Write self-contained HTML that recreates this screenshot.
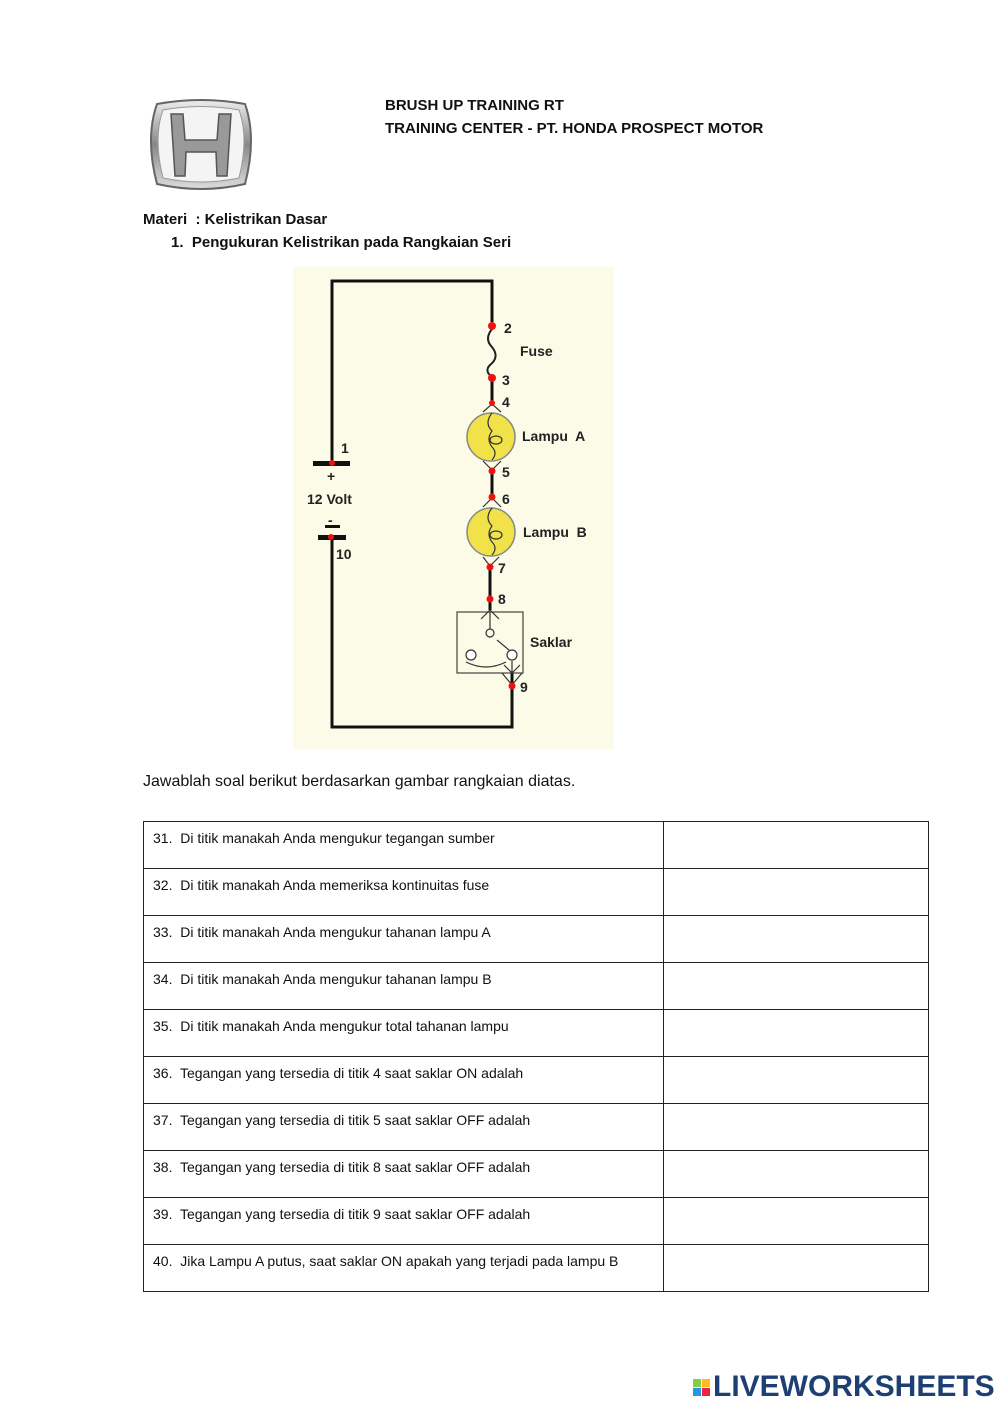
<!DOCTYPE html>
<html><head><style>
body{margin:0;width:1000px;height:1414px;background:#fff;font-family:"Liberation Sans",sans-serif;position:relative;overflow:hidden;color:#111}
.a{position:absolute}
.b{font-weight:bold;font-size:15px}
table{position:absolute;left:143px;top:821px;border-collapse:collapse;width:786px;table-layout:fixed}
td{border:1px solid #222;height:38px;padding:8px 0 0 0;font-size:14px;vertical-align:top;line-height:16px}
td.q{width:510px;padding-left:9px;white-space:nowrap}
</style></head><body>
<svg class="a" style="left:145px;top:98px" width="112" height="94" viewBox="0 0 112 94">
<defs><linearGradient id="g" x1="0" y1="0" x2="0" y2="1"><stop offset="0" stop-color="#eee"/><stop offset=".5" stop-color="#888"/><stop offset="1" stop-color="#ddd"/></linearGradient></defs>
<path d="M12 6 Q56 -2 100 6 Q112 40 100 86 Q56 96 12 86 Q0 40 12 6Z" fill="url(#g)" stroke="#666" stroke-width="2"/>
<path d="M18 12 Q56 5 94 12 Q104 40 94 80 Q56 88 18 80 Q8 40 18 12Z" fill="#f4f4f4" stroke="#999"/>
<path d="M26 16 L38 16 L40 42 L72 42 L74 16 L86 16 L82 78 L72 78 L71 54 L41 54 L40 78 L30 78Z" fill="#999" stroke="#555" stroke-width="1.5"/>
</svg>
<div class="a b" style="left:385px;top:97px">BRUSH UP TRAINING RT</div>
<div class="a b" style="left:385px;top:120px">TRAINING CENTER - PT. HONDA PROSPECT MOTOR</div>
<div class="a b" style="left:143px;top:211px">Materi&nbsp; : Kelistrikan Dasar</div>
<div class="a b" style="left:171px;top:234px">1.&nbsp; Pengukuran Kelistrikan pada Rangkaian Seri</div>
<svg class="a" style="left:293px;top:267px" width="321" height="482">
<rect width="321" height="482" fill="#fbfbe8"/>
<g fill="none" stroke="#111" stroke-width="3">
<path d="M39 197 V14 H199 V55"/>
<path d="M39 271 V460 H219 V419"/>
<path d="M199 111 V136 M199 203 V230 M197 299 V330 M197 330 V343 M219 405 V419"/>
</g>
<path d="M199 62 q-8 10 0 18 q8 10 -2 18 q-6 6 2 12" fill="none" stroke="#222" stroke-width="2"/>
<rect x="20" y="194" width="37" height="5" fill="#111"/>
<rect x="32" y="258" width="15" height="3" fill="#111"/>
<rect x="25" y="268" width="28" height="5" fill="#111"/>
<g fill="#f2e24a" stroke="#888" stroke-width="1.5"><circle cx="198" cy="170" r="24"/><circle cx="198" cy="265" r="24"/></g>
<g fill="none" stroke="#333" stroke-width="1.2">
<path d="M190 145 L199 137 L208 145 M190 194 L199 203 L208 194 M190 240 L199 231 L208 240 M190 290 L197 299 L206 290"/>
<path d="M199 146 q-8 10 0 18 q-6 8 0 16 q6 6 0 13 M199 241 q-8 10 0 18 q-6 8 0 16 q6 6 0 13"/>
<ellipse cx="203" cy="173" rx="6" ry="4"/><ellipse cx="203" cy="268" rx="6" ry="4"/>
<rect x="164" y="345" width="66" height="61" stroke="#444"/>
<path d="M188 352 L197 343 L206 352 M197 345 V362 M204 373 L216 383 M173 395 q20 10 40 0 M219 394 V405 M211 398 L219 406 L227 398 M209 406 L219 418 L229 406"/>
<circle cx="197" cy="366" r="4"/><circle cx="178" cy="388" r="5" fill="#fff"/><circle cx="219" cy="388" r="5" fill="#fff"/>
</g>
<g fill="#e11"><circle cx="199" cy="59" r="4"/><circle cx="199" cy="111" r="4"/><circle cx="199" cy="136" r="3"/><circle cx="199" cy="204" r="3.5"/><circle cx="199" cy="230" r="3.5"/><circle cx="197" cy="300" r="3.5"/><circle cx="197" cy="332" r="3.5"/><circle cx="219" cy="419" r="3.5"/><circle cx="39" cy="196" r="3"/><circle cx="38" cy="270" r="3"/></g>
<g font-family="Liberation Sans" font-weight="bold" font-size="14" fill="#222">
<text x="211" y="66">2</text><text x="227" y="89">Fuse</text><text x="209" y="118">3</text><text x="209" y="140">4</text>
<text x="229" y="174">Lampu&#160; A</text><text x="209" y="210">5</text><text x="209" y="237">6</text>
<text x="230" y="270">Lampu&#160; B</text><text x="205" y="306">7</text><text x="205" y="337">8</text>
<text x="237" y="380">Saklar</text><text x="227" y="425">9</text>
<text x="48" y="186">1</text><text x="34" y="214">+</text><text x="14" y="237">12 Volt</text><text x="35" y="258">-</text><text x="43" y="292">10</text></g>
</svg>
<div class="a" style="left:143px;top:773px;font-size:16px">Jawablah soal berikut berdasarkan gambar rangkaian diatas.</div>
<table>
<tr><td class="q">31.&nbsp; Di titik manakah Anda mengukur tegangan sumber</td><td></td></tr>
<tr><td class="q">32.&nbsp; Di titik manakah Anda memeriksa kontinuitas fuse</td><td></td></tr>
<tr><td class="q">33.&nbsp; Di titik manakah Anda mengukur tahanan lampu A</td><td></td></tr>
<tr><td class="q">34.&nbsp; Di titik manakah Anda mengukur tahanan lampu B</td><td></td></tr>
<tr><td class="q">35.&nbsp; Di titik manakah Anda mengukur total tahanan lampu</td><td></td></tr>
<tr><td class="q">36.&nbsp; Tegangan yang tersedia di titik 4 saat saklar ON adalah</td><td></td></tr>
<tr><td class="q">37.&nbsp; Tegangan yang tersedia di titik 5 saat saklar OFF adalah</td><td></td></tr>
<tr><td class="q">38.&nbsp; Tegangan yang tersedia di titik 8 saat saklar OFF adalah</td><td></td></tr>
<tr><td class="q">39.&nbsp; Tegangan yang tersedia di titik 9 saat saklar OFF adalah</td><td></td></tr>
<tr><td class="q">40.&nbsp; Jika Lampu A putus, saat saklar ON apakah yang terjadi pada lampu B</td><td></td></tr>
</table>
<div class="a" style="left:693px;top:1379px;width:8px;height:8px;background:#8c4"></div>
<div class="a" style="left:702px;top:1379px;width:8px;height:8px;background:#fb2"></div>
<div class="a" style="left:693px;top:1388px;width:8px;height:8px;background:#29d"></div>
<div class="a" style="left:702px;top:1388px;width:8px;height:8px;background:#e24"></div>
<div class="a" style="left:713px;top:1370px;font-size:30px;font-weight:bold;color:#1d3f72;letter-spacing:0px">LIVEWORKSHEETS</div>
</body></html>
